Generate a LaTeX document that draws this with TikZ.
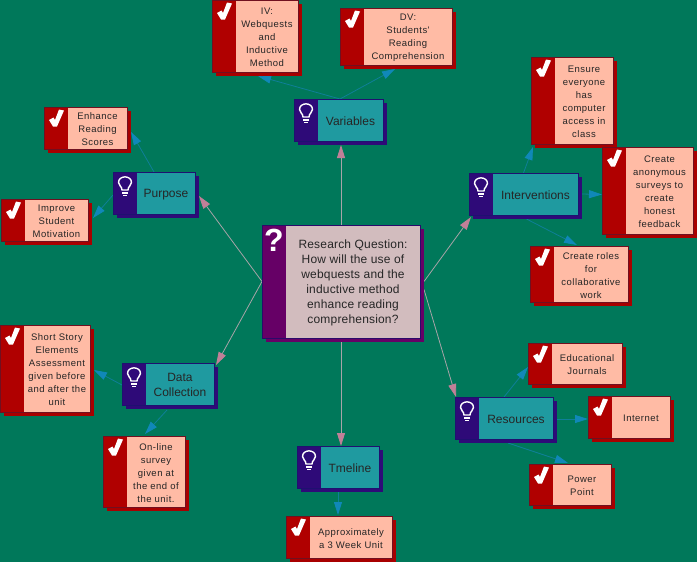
\documentclass[tikz,border=0pt]{standalone}
\usepackage{fontspec}
\setmainfont{Liberation Sans}
\newfontfamily\tasktext[LetterSpace=5]{Liberation Sans}
\newfontfamily\questiontext[LetterSpace=1.5]{Liberation Sans}
\usetikzlibrary{arrows.meta,backgrounds}
\definecolor{bgc}{HTML}{00785A}
\definecolor{taskedge}{HTML}{701020}
\definecolor{ideaedge}{HTML}{1F1070}
\definecolor{mainedge}{HTML}{2A0A6A}
\definecolor{taskstrip}{HTML}{B00000}
\definecolor{taskfill}{HTML}{FFBBA5}
\definecolor{taskshadow}{HTML}{A80000}
\definecolor{ideastrip}{HTML}{2E0A78}
\definecolor{ideafill}{HTML}{1F9AA0}
\definecolor{ideashadow}{HTML}{2E0A78}
\definecolor{mainstrip}{HTML}{660066}
\definecolor{mainfill}{HTML}{D2BCBE}
\definecolor{mainshadow}{HTML}{660066}
\definecolor{pinkline}{HTML}{A8A4A8}
\definecolor{pinkhead}{HTML}{C08098}
\definecolor{blueline}{HTML}{0F7F98}
\definecolor{bluehead}{HTML}{1088B8}
\tikzset{
  x=1pt,y=-1pt,
  basecard/.style={rectangle,inner sep=0pt,outer sep=0pt,anchor=center,text=black!85},
  taskcard/.style={basecard,fill=taskfill},
  ideacard/.style={basecard,fill=ideafill},
  maincard/.style={basecard,fill=mainfill},
  taskfont/.style={font=\tasktext\fontsize{9.5}{13}\selectfont},
  ideafont/.style={font=\fontsize{12}{15}\selectfont},
  mainfont/.style={font=\questiontext\fontsize{12}{15}\selectfont},
  pinkconn/.style={draw=pinkline,line width=0.8pt,-{Triangle[length=13pt,width=8pt,color=pinkhead]}},
  blueconn/.style={draw=blueline,line width=0.8pt,-{Triangle[length=13pt,width=8pt,color=bluehead]}},
  qmark/.style={text=white,font=\bfseries\fontsize{32}{32}\selectfont,inner sep=0pt},
}
\newcommand\taskicon{\fill[white] (5,13) -- (9.5,10.5) -- (11,13) -- (15,2.5) -- (20,3.5) -- (13,19.5) -- (9,19.5) -- cycle;}
\newcommand\ideaicon{%
  \draw[white,line width=1.4pt] (9,18) .. controls (9,14) and (5.5,14) .. (5.5,10.5) .. controls (5.5,3) and (18.5,3) .. (18.5,10.5) .. controls (18.5,14) and (15,14) .. (15,18) -- cycle;
  \draw[white,line width=1.4pt] (9,21) -- (15,21) (10,23.7) -- (14,23.7);}
\newcommand\mainicon{}
% kind, name, x0, y0, x1, y1, text
\newcommand\mapcard[7]{%
  \pgfmathsetmacro\cw{#5-#3}%
  \pgfmathsetmacro\ch{#6-#4}%
  \pgfmathsetmacro\ctw{#5-#3-24}%
  \fill[#1shadow] (#3+4,#4+4) rectangle (#5+4,#6+4);
  \node[#1card,#1font,minimum width=\cw pt,minimum height=\ch pt] (#2) at ({(#3+#5)/2},{(#4+#6)/2})
    {\hspace*{24pt}\parbox{\ctw pt}{\vspace*{2.5pt}\centering #7}};
  \begin{scope}[shift={(#2.north west)}]
    \fill[#1strip] (0,0) rectangle (24,\ch);
    \csname #1icon\endcsname
  \end{scope}
  \draw[#1edge,line width=0.7pt] (#2.north west) rectangle (#2.south east);
}
\newcommand\conn[3]{\draw[#1] #2 -- #3;}
\begin{document}
\begin{tikzpicture}
\useasboundingbox (0,0) rectangle (697,562);
\mapcard{main}{center}{262}{225}{420}{338}{Research Question:\\How will the use of\\webquests and the\\inductive method\\enhance reading\\comprehension?}
\node[qmark] (q) at (274,240) {?};
\mapcard{idea}{variables}{294}{99}{383}{141}{Variables}
\mapcard{idea}{purpose}{113}{172}{195}{214}{Purpose}
\mapcard{idea}{interventions}{469}{173}{578}{215}{Interventions}
\mapcard{idea}{resources}{455}{397}{553}{439}{Resources}
\mapcard{idea}{data}{122}{363}{214}{405}{Data\\Collection}
\mapcard{idea}{timeline}{297}{446}{379}{488}{Tmeline}
\mapcard{task}{enhance}{44}{107}{127}{149}{Enhance\\Reading\\Scores}
\mapcard{task}{improve}{1}{199}{88}{241}{Improve\\Student\\Motivation}
\mapcard{task}{iv}{212}{0}{298}{72}{IV:\\Webquests\\and\\Inductive\\Method}
\mapcard{task}{dv}{340}{8}{452}{65}{DV:\\Students'\\Reading\\Comprehension}
\mapcard{task}{ensure}{531}{57}{613}{144}{Ensure\\everyone\\has\\computer\\access in\\class}
\mapcard{task}{anon}{602}{147}{693}{234}{Create\\anonymous\\surveys to\\create\\honest\\feedback}
\mapcard{task}{roles}{530}{246}{628}{302}{Create roles\\for\\collaborative\\work}
\mapcard{task}{journals}{528}{343}{622}{384}{Educational\\Journals}
\mapcard{task}{internet}{588}{396}{670}{438}{Internet}
\mapcard{task}{power}{529}{464}{611}{505}{Power\\Point}
\mapcard{task}{short}{0}{325}{90}{412}{Short Story\\Elements\\Assessment\\given before\\and after the\\unit}
\mapcard{task}{online}{103}{436}{185}{507}{On-line\\survey\\given at\\the end of\\the unit.}
\mapcard{task}{approx}{286}{516}{392}{558}{Approximately\\a 3 Week Unit}
\begin{scope}[on background layer]
  \fill[bgc] (0,0) rectangle (697,562);
  \conn{pinkconn}{(center.north)}{([shift={(2.5,4)}]variables.south)}
  \conn{pinkconn}{([shift={(0,4)}]center.south)}{([shift={(3,0)}]timeline.north)}
  \conn{pinkconn}{(center.west)}{([shift={(4,3)}]purpose.east)}
  \conn{pinkconn}{(center.west)}{([shift={(2,2)}]data.north east)}
  \conn{pinkconn}{([shift={(4,0)}]center.east)}{([shift={(2,2)}]interventions.south west)}
  \conn{pinkconn}{([shift={(4,8)}]center.east)}{([shift={(1,0)}]resources.north west)}
  \conn{blueconn}{(purpose.north)}{([shift={(4,4)}]enhance.east)}
  \conn{blueconn}{([shift={(0,2)}]purpose.west)}{([shift={(5,-2)}]improve.east)}
  \conn{blueconn}{([shift={(1.5,0)}]variables.north)}{([shift={(3,4)}]iv.south)}
  \conn{blueconn}{([shift={(1.5,0)}]variables.north)}{([shift={(-1,4)}]dv.south)}
  \conn{blueconn}{(interventions.north)}{([shift={(2,3)}]ensure.south west)}
  \conn{blueconn}{([shift={(4,0)}]interventions.east)}{([shift={(0,4)}]anon.west)}
  \conn{blueconn}{([shift={(3,4)}]interventions.south)}{([shift={(-2,-1)}]roles.north)}
  \conn{blueconn}{(resources.north)}{([shift={(0,3.5)}]journals.west)}
  \conn{blueconn}{([shift={(4,1)}]resources.east)}{([shift={(0,2)}]internet.west)}
  \conn{blueconn}{([shift={(4,4)}]resources.south)}{([shift={(-2,-1)}]power.north)}
  \conn{blueconn}{([shift={(0,1)}]data.west)}{([shift={(4,1.5)}]short.east)}
  \conn{blueconn}{([shift={(-1,5)}]data.south)}{([shift={(1,-2)}]online.north)}
  \conn{blueconn}{([shift={(0,4)}]timeline.south)}{([shift={(-1,-1)}]approx.north)}
\end{scope}
\end{tikzpicture}
\end{document}
